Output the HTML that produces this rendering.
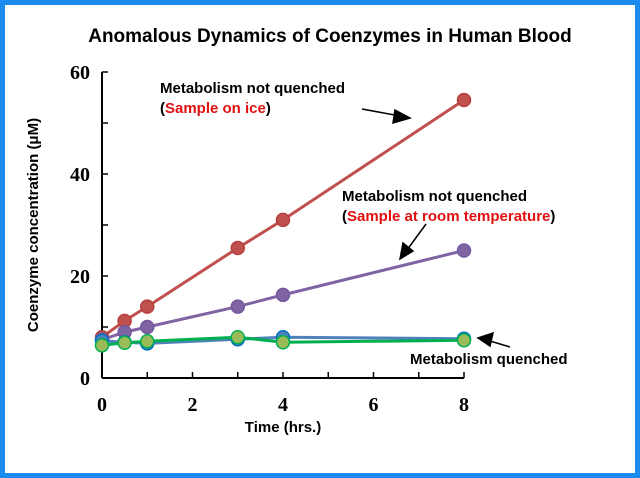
<!DOCTYPE html>
<html><head><meta charset="utf-8"><style>
body{margin:0;background:#fff}
#wrap{position:relative;width:640px;height:478px;box-sizing:border-box;border:5px solid #1a8cf0;background:#fff;overflow:hidden}
svg text{font-family:"Liberation Sans",sans-serif;font-weight:bold}
.tick{font-family:"Liberation Serif",serif!important;font-size:20px}
</style></head><body>
<div id="wrap">
<svg id="chart" width="630" height="468" viewBox="5 5 630 468">
<text x="330" y="42" text-anchor="middle" font-size="19">Anomalous Dynamics of Coenzymes in Human Blood</text>
<g id="axes"></g>
<g id="series"></g>
<text transform="translate(38,225) rotate(-90)" text-anchor="middle" font-size="15">Coenzyme concentration (μM)</text>
<text x="283" y="432" text-anchor="middle" font-size="15">Time (hrs.)</text>
<g font-size="15">
<text x="160" y="93">Metabolism not quenched</text>
<text x="160" y="113">(<tspan fill="#e01010">Sample on ice</tspan>)</text>
</g>
<g font-size="15">
<text x="342" y="201">Metabolism not quenched</text>
<text x="342" y="221">(<tspan fill="#e01010">Sample at room temperature</tspan>)</text>
</g>
<text x="410" y="364" font-size="15">Metabolism quenched</text>
<g stroke="#000" stroke-width="1.5" fill="#000">
<line x1="362" y1="109" x2="400" y2="116"/><polygon points="410,118 395,110 393,123"/>
<line x1="426" y1="224" x2="407" y2="250"/><polygon points="400,259 403,243 413,251"/>
<line x1="510" y1="347" x2="490" y2="341"/><polygon points="478,338 493,333 490,346"/>
</g>
</svg>
</div>
<script>
const times=[0,0.5,1,3,4,8];
const ice=[8,11.2,14,25.5,31,54.5];
const room=[7.5,9,10,14,16.3,25];
const quenchedA=[7.3,7,6.8,7.6,8,7.7];
const quenchedB=[6.4,6.9,7.2,8,7,7.4];
const yTicks=[0,20,40,60];
const xTicks=[0,2,4,6,8];
const X0=102,X1=464,Y0=378,Y1=72;
const sx=v=>X0+(X1-X0)*v/8, sy=v=>Y0-(Y0-Y1)*v/60;
const NS="http://www.w3.org/2000/svg";
function mk(t,a,p){const e=document.createElementNS(NS,t);for(const k in a)e.setAttribute(k,a[k]);p.appendChild(e);return e;}
const ax=document.getElementById('axes');
let e=mk('line',{x1:X0,y1:Y1,x2:X0,y2:Y0,stroke:'#000','stroke-width':2},ax);


e=mk('line',{x1:X0,y1:Y0,x2:X1,y2:Y0,stroke:'#000','stroke-width':2},ax);


for(let v=0;v<=60;v+=10){mk('line',{x1:X0,y1:sy(v),x2:X0+6,y2:sy(v),stroke:'#000','stroke-width':1.5},ax);}
for(let v=0;v<=8;v+=1){mk('line',{x1:sx(v),y1:Y0,x2:sx(v),y2:Y0-6,stroke:'#000','stroke-width':1.5},ax);}
yTicks.forEach(v=>{const t=mk('text',{x:X0-12,y:sy(v)+7,'text-anchor':'end',class:'tick'},ax);t.textContent=v;

});
xTicks.forEach(v=>{const t=mk('text',{x:sx(v),y:Y0+33,'text-anchor':'middle',class:'tick'},ax);t.textContent=v;

});
const sg=document.getElementById('series');
function series(vals,line,fill,stroke,name){
 const g=mk('g',{},sg);
 
 
 mk('polyline',{points:vals.map((v,i)=>sx(times[i])+','+sy(v)).join(' '),fill:'none',stroke:line,'stroke-width':3},g);
 vals.forEach((v,i)=>{const c=mk('circle',{cx:sx(times[i]),cy:sy(v),r:6.5,fill:fill,stroke:stroke,'stroke-width':1.5},g);
 
 });
}
series(ice,'#c0504d','#c0504d','#b5403d','series-ice');
series(room,'#8064a2','#8064a2','#7458a0','series-room');
series(quenchedA,'#4f81bd','#4f81bd','#0070c0','series-quenched-a');
series(quenchedB,'#00b050','#9bbb59','#00b050','series-quenched-b');
</script>
</body></html>
